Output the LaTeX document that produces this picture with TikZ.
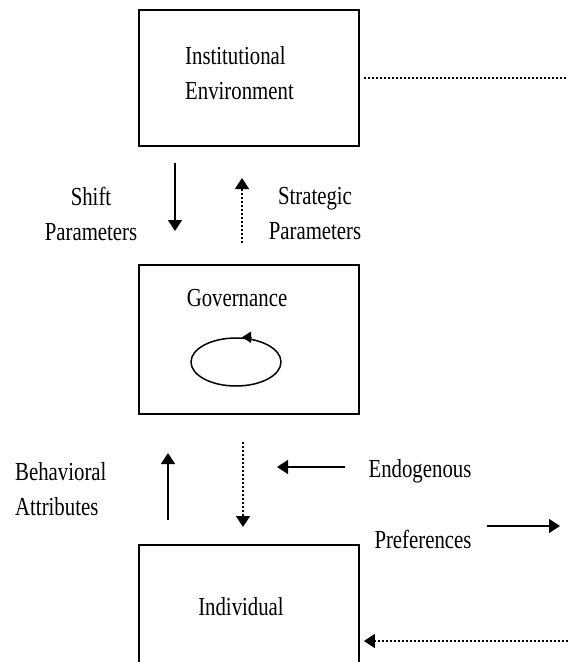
\documentclass[tikz,border=0pt]{standalone}
\usepackage{fontspec}
\setmainfont{Liberation Serif}[FakeStretch=0.8]
\usepackage{tikz}
\usetikzlibrary{shapes.geometric,arrows.meta,positioning}

\begin{document}
\begin{tikzpicture}[x=1pt, y=-1pt,
    every node/.style={font=\fontsize{26pt}{35pt}\selectfont},
    level/.style={rectangle, draw, line width=1.8pt, inner sep=0pt, minimum width=220pt},
    lbl/.style={inner sep=0pt, align=center},
    flow/.style={line width=1.4pt, -{Triangle[length=11pt,width=14pt]}},
    dotflow/.style={line width=1.6pt, dash pattern=on 1.6pt off 2.4pt, -{Triangle[length=11pt,width=14pt]}},
    dotline/.style={line width=1.6pt, dash pattern=on 1.6pt off 2.4pt}]

    \useasboundingbox (0,0) rectangle (568,662);

    % the three levels
    \node[level, minimum height=136pt] (inst) at (249,78) {};
    \node[level, minimum height=149pt, below=117pt of inst] (gov) {};
    \node[level, minimum height=120pt, below=129pt of gov] (ind) {};

    \node[lbl, align=left, anchor=west] (instlbl) at (185,73) {Institutional\\Environment};
    \node[lbl] (govlbl) at (237,298) {Governance};
    \node[ellipse, draw, line width=1.5pt, inner sep=0pt, minimum width=90pt, minimum height=48pt] (loop) at (236,362) {};
    \node[lbl] (indlbl) at (241,607) {Individual};

    % side labels
    \node[lbl] (shift) at (91,214) {Shift\\Parameters};
    \node[lbl] (strat) at (315,214) {Strategic\\Parameters};
    \node[lbl, align=left, anchor=west] (behav) at (15,489) {Behavioral\\Attributes};
    \node[lbl] (endo) at (420,471) {Endogenous};
    \node[lbl] (pref) at (423,539) {Preferences};

    % arrow ends
    \coordinate (shiftA) at (175,163);
    \coordinate (shiftB) at (175,231);
    \coordinate (stratA) at (242,243);
    \coordinate (stratB) at (242,178);
    \coordinate (behavA) at (168,520);
    \coordinate (behavB) at (168,453);
    \coordinate (downA) at (243,442);
    \coordinate (downB) at (243,527);
    \coordinate (endoA) at (345,467);
    \coordinate (endoB) at (277,467);
    \coordinate (prefA) at (487,526);
    \coordinate (prefB) at (560,526);
    \coordinate (outTop) at (568,78);
    \coordinate (outBot) at (568,641);

    \draw[flow] (shiftA) -- (shiftB);
    \draw[dotflow] (stratA) -- (stratB);
    \draw[flow] (behavA) -- (behavB);
    \draw[dotflow] (downA) -- (downB);
    \draw[flow] (endoA) -- (endoB);
    \draw[flow] (prefA) -- (prefB);
    \draw[dotline] ([xshift=4pt]inst.east) -- (outTop);
    \draw[dotflow] (outBot) -- ([xshift=4pt]ind.east |- outBot);
    \draw[line width=1.5pt, -{Triangle[length=9pt,width=11pt]}] ([xshift=16pt]loop.north) -- ([xshift=6pt]loop.north);

\end{tikzpicture}
\end{document}
